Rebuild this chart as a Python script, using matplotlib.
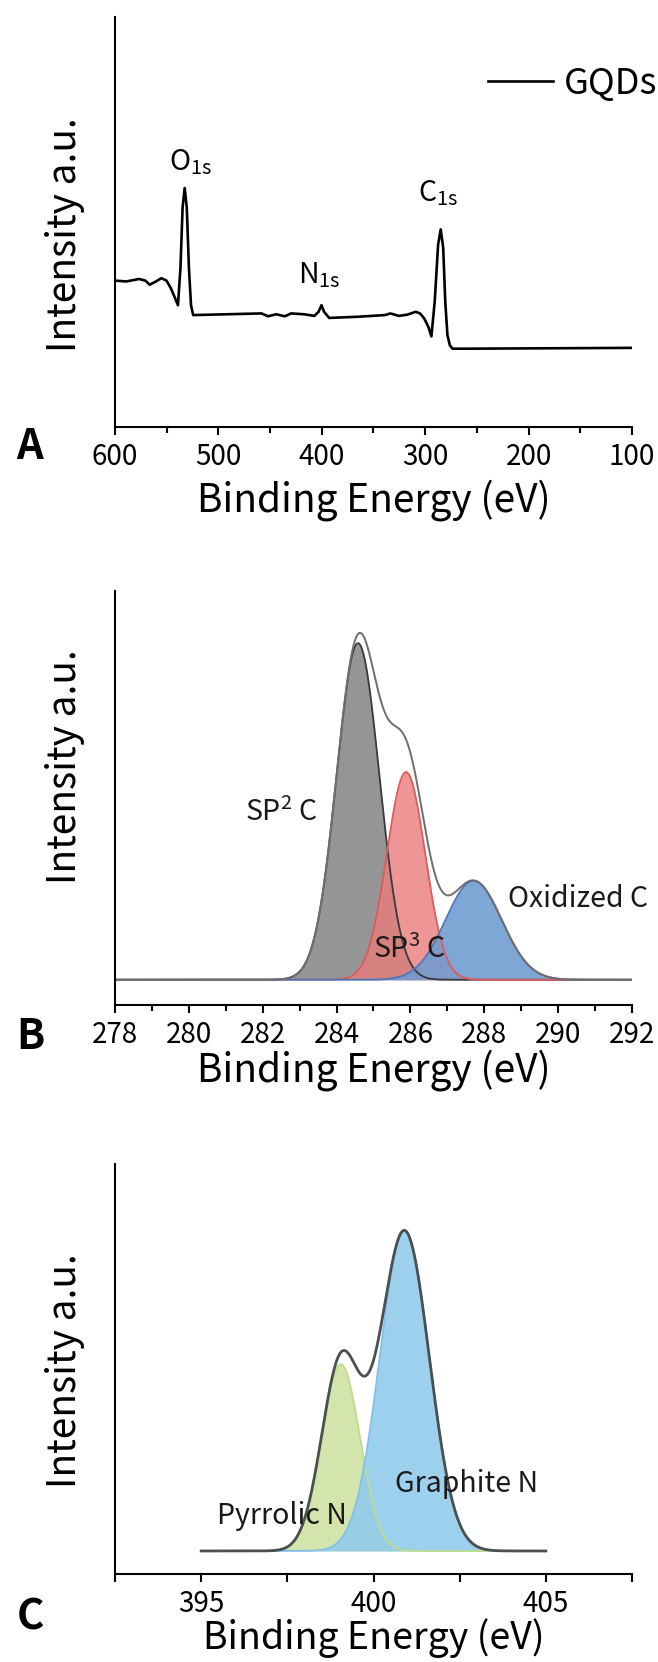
import numpy as np
import matplotlib
matplotlib.use("Agg")
import matplotlib.pyplot as plt
from matplotlib.ticker import MultipleLocator

plt.rcParams['font.family'] = ['Noto Sans CJK SC', 'DejaVu Sans']
plt.rcParams['font.weight'] = 'light'
plt.rcParams['mathtext.fontset'] = 'custom'
plt.rcParams['mathtext.rm'] = 'Noto Sans CJK SC'
plt.rcParams['mathtext.it'] = 'Noto Sans CJK SC'

# ---- survey spectrum (A) ----
survey_be = [600, 589, 576.7, 570.6, 566.5, 560.4, 555.1, 550.2, 546.1, 543.2,
             539.1, 536.7, 534.6, 532.6, 530.6, 528.5, 526.5, 524.4, 458.3, 452.1,
             444, 435.8, 429.7, 417.4, 407.2, 403.1, 400.3, 397.8, 392.9, 364.3,
             338.8, 333.7, 325.5, 317.3, 309.2, 305, 301, 296.9, 294.0, 290.8,
             287.5, 285, 282.6, 280.6, 278.5, 276.1, 273.6, 262, 100]
survey_int = [0.357, 0.355, 0.361, 0.357, 0.347, 0.355, 0.363, 0.357, 0.339, 0.322,
              0.297, 0.388, 0.536, 0.583, 0.536, 0.388, 0.297, 0.273, 0.277, 0.270,
              0.275, 0.270, 0.277, 0.275, 0.271, 0.281, 0.297, 0.281, 0.266, 0.269,
              0.273, 0.277, 0.271, 0.274, 0.281, 0.277, 0.265, 0.244, 0.221, 0.306,
              0.445, 0.482, 0.437, 0.306, 0.224, 0.199, 0.191, 0.191, 0.193]

# ---- C1s fit (B) ----
c1s_names = ['SP$^{2}$ C', 'SP$^{3}$ C', 'Oxidized C']
c1s_center = [284.58, 285.88, 287.71]
c1s_height = [1.0, 0.617, 0.294]
c1s_sigma = [0.58, 0.52, 0.76]

# ---- N1s fit (C) ----
n1s_names = ['Pyrrolic N', 'Graphite N']
n1s_center = [399.05, 400.9]
n1s_height = [0.584, 1.0]
n1s_sigma = [0.56, 0.72]


def gauss(x, c, h, s):
    return h * np.exp(-0.5 * ((x - c) / s) ** 2)


def style_axes(ax, labelpad, size=28):
    ax.spines['top'].set_visible(False)
    ax.spines['right'].set_visible(False)
    for s in ['left', 'bottom']:
        ax.spines[s].set_linewidth(1.5)
    ax.set_yticks([])
    ax.tick_params(axis='x', which='major', direction='out', length=6, width=1.5,
                   labelsize=20, pad=5)
    ax.tick_params(axis='x', which='minor', direction='out', length=4, width=1.5)
    ax.set_xlabel('Binding Energy (eV)', fontsize=size, labelpad=labelpad)
    ax.set_ylabel('Intensity a.u.', fontsize=28)


fig = plt.figure(figsize=(6.58, 16.62), dpi=100)
axA = fig.add_axes([115 / 658, 1 - 427 / 1662, 517 / 658, 410 / 1662])
axB = fig.add_axes([115 / 658, 1 - 1005 / 1662, 517 / 658, 414 / 1662])
axC = fig.add_axes([115 / 658, 1 - 1574 / 1662, 517 / 658, 410 / 1662])

# A: survey
axA.plot(survey_be, survey_int, color='black', lw=1.9, label='GQDs')
axA.set_xlim(600, 100)
axA.set_ylim(0, 1)
axA.xaxis.set_major_locator(MultipleLocator(100))
axA.xaxis.set_minor_locator(MultipleLocator(50))
style_axes(axA, 5)
axA.yaxis.set_label_coords(-0.058, 0.47)
axA.text(527, 0.645, r'O$_{\mathrm{1s}}$', fontsize=20.5, ha='center', va='center')
axA.text(402, 0.37, r'N$_{\mathrm{1s}}$', fontsize=20.5, ha='center', va='center')
axA.text(288, 0.57, r'C$_{\mathrm{1s}}$', fontsize=20.5, ha='center', va='center')
axA.legend(loc='center right', bbox_to_anchor=(657 / 658, 1 - 84 / 1662),
           bbox_transform=fig.transFigure, frameon=False, fontsize=26,
           handlelength=1.8, handletextpad=0.3, borderpad=0, borderaxespad=0)

# B: C1s
xb = np.linspace(278, 292, 1400)
c1s_fill = ['#8a8a8a', '#ea7c7c', '#6d9bd0']
c1s_edge = ['#3a3a3a', '#e05a5a', '#4a78b8']
c1s_alpha = [0.9, 0.8, 0.88]
c1s_comp = [gauss(xb, c, h, s) for c, h, s in zip(c1s_center, c1s_height, c1s_sigma)]
for comp, fc, ec, a in zip(c1s_comp, c1s_fill, c1s_edge, c1s_alpha):
    axB.fill_between(xb, 0, comp, color=fc, alpha=a, lw=0)
    axB.plot(xb, comp, color=ec, lw=1.3)
axB.plot(xb, sum(c1s_comp), color='#6e6e6e', lw=1.4)
axB.set_xlim(278, 292)
axB.set_ylim(-0.075, 1.155)
axB.xaxis.set_major_locator(MultipleLocator(2))
axB.xaxis.set_minor_locator(MultipleLocator(1))
style_axes(axB, -1)
axB.yaxis.set_label_coords(-0.058, 0.575)
c1s_label_pos = [(282.5, 0.495), (285.97, 0.088), (290.55, 0.24)]
for name, (tx, ty) in zip(c1s_names, c1s_label_pos):
    axB.text(tx, ty, name, fontsize=20.5, ha='center', va='center', color='#1a1a1a')

# C: N1s
xc = np.linspace(395, 405, 1000)
n1s_fill = ['#cfe3a3', '#93cbec']
n1s_edge = ['#bedc8a', '#7fc0ea']
n1s_comp = [gauss(xc, c, h, s) for c, h, s in zip(n1s_center, n1s_height, n1s_sigma)]
for comp, fc, ec in zip(n1s_comp, n1s_fill, n1s_edge):
    axC.fill_between(xc, 0, comp, color=fc, alpha=0.9, lw=0)
    axC.plot(xc, comp, color=ec, lw=1.3)
axC.plot(xc, sum(n1s_comp), color='#4a4f4f', lw=2.0)
axC.set_xlim(392.5, 407.5)
axC.set_ylim(-0.072, 1.21)
axC.set_xticks([392.5, 395, 397.5, 400, 402.5, 405, 407.5])
axC.set_xticklabels(['', '395', '', '400', '', '405', ''])
style_axes(axC, -1, size=27)
axC.yaxis.set_label_coords(-0.058, 0.495)
n1s_label_pos = [(397.34, 0.11), (402.69, 0.21)]
for name, (tx, ty) in zip(n1s_names, n1s_label_pos):
    axC.text(tx, ty, name, fontsize=20.5, ha='center', va='center', color='#1a1a1a')

# panel letters
for letter, y in [('A', 447), ('B', 1037), ('C', 1618)]:
    fig.text(30 / 658, 1 - y / 1662, letter, fontsize=30, fontweight='bold',
             ha='center', va='center')

fig.savefig('out.png', dpi=100)
